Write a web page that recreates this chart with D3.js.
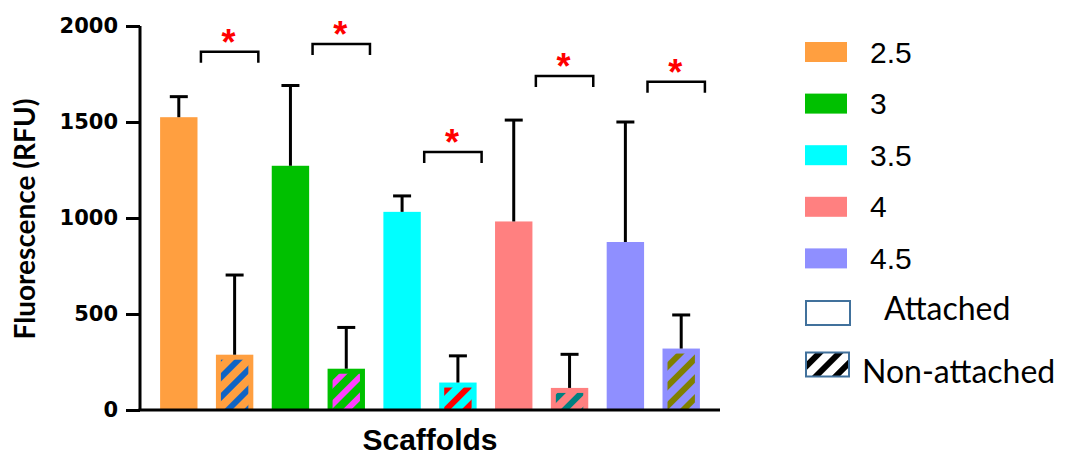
<!DOCTYPE html>
<html>
<head>
<meta charset="utf-8">
<script src="https://cdn.jsdelivr.net/npm/d3@7"></script>
<style>
  body { margin: 0; background: #fff; }
  svg { display: block; }
</style>
</head>
<body>
<div id="chart"></div>
<script>
// data
var scaffolds = ["2.5", "3", "3.5", "4", "4.5"];
var attached = [1525, 1272, 1032, 982, 875];
var attachedErr = [107, 418, 83, 528, 625];
var nonAttached = [288, 215, 143, 115, 320];
var nonAttachedErr = [415, 215, 139, 175, 175];
var sigBracket = [1866, 1906, 1344, 1740, 1710];
var yTicks = [0, 500, 1000, 1500, 2000];

var barColors = ["#FF9F40", "#00C000", "#00FFFF", "#FF8080", "#8F8FFF"];
var hatchColors = ["#1064C4", "#FF40FF", "#FF0000", "#008080", "#808000"];

var svgWidth = 1070;
var svgHeight = 456;

var svg = d3.select("#chart")
  .append("svg")
  .attr("width", svgWidth)
  .attr("height", svgHeight);

var defs = svg.append("defs");

// flatten into one row per bar
var bars = [];
scaffolds.forEach(function(s, i) {
  bars.push({ key: s + "-a", group: i, value: attached[i], err: attachedErr[i], hatch: false });
  bars.push({ key: s + "-n", group: i, value: nonAttached[i], err: nonAttachedErr[i], hatch: true });
});

var x = d3.scaleBand()
  .domain(bars.map(d => d.key))
  .range([140, 720])
  .paddingInner(0.33)
  .paddingOuter(0.36);

var y = d3.scaleLinear()
  .domain([0, 2000])
  .range([410, 26]);

// stripe patterns
function stripe(id, color, bg) {
  var p = defs.append("pattern")
    .attr("id", id)
    .attr("patternUnits", "userSpaceOnUse")
    .attr("width", 14)
    .attr("height", 14)
    .attr("patternTransform", "rotate(45)");
  if (bg) p.append("rect").attr("width", 14).attr("height", 14).attr("fill", bg);
  p.append("rect").attr("width", 6).attr("height", 14).attr("fill", color);
}
hatchColors.forEach(function(c, i) { stripe("hatch" + i, c, null); });
stripe("hatchLegend", "#000", "#fff");

var chart = svg.append("g");

// bars
chart.selectAll(".bar")
  .data(bars)
  .enter().append("rect")
  .attr("class", "bar")
  .attr("x", d => x(d.key))
  .attr("y", d => y(d.value))
  .attr("width", x.bandwidth())
  .attr("height", d => y(0) - y(d.value))
  .attr("fill", d => barColors[d.group]);

// hatch inset in the non-attached bars
chart.selectAll(".hatch")
  .data(bars.filter(d => d.hatch))
  .enter().append("rect")
  .attr("class", "hatch")
  .attr("x", d => x(d.key) + 5)
  .attr("y", d => y(d.value) + 5)
  .attr("width", x.bandwidth() - 10)
  .attr("height", d => Math.max(0, y(0) - y(d.value) - 5))
  .attr("fill", d => "url(#hatch" + d.group + ")");

// error bars (upper only)
var eb = chart.selectAll(".err")
  .data(bars)
  .enter().append("g")
  .attr("class", "err")
  .attr("stroke", "#000")
  .attr("stroke-width", 3);
eb.append("line")
  .attr("x1", d => x(d.key) + x.bandwidth() / 2)
  .attr("x2", d => x(d.key) + x.bandwidth() / 2)
  .attr("y1", d => y(d.value))
  .attr("y2", d => y(d.value + d.err));
eb.append("line")
  .attr("x1", d => x(d.key) + x.bandwidth() / 2 - 9)
  .attr("x2", d => x(d.key) + x.bandwidth() / 2 + 9)
  .attr("y1", d => y(d.value + d.err))
  .attr("y2", d => y(d.value + d.err));

// axes
var leftAxis = d3.axisLeft(y)
  .tickValues(yTicks)
  .tickFormat(d3.format("d"))
  .tickSize(14)
  .tickPadding(8);
var yAxisG = chart.append("g")
  .attr("transform", "translate(140,0)")
  .call(leftAxis);
yAxisG.select(".domain").attr("stroke-width", 3).attr("d", "M0," + y(2000) + "V" + y(0));
yAxisG.selectAll(".tick line").attr("stroke-width", 3);
yAxisG.selectAll(".tick text")
  .attr("font-family", "DejaVu Sans, sans-serif")
  .attr("font-weight", "bold")
  .attr("font-size", 21)
  .attr("fill", "#000");

chart.append("line")
  .attr("x1", 138.5).attr("x2", 720)
  .attr("y1", y(0)).attr("y2", y(0))
  .attr("stroke", "#000").attr("stroke-width", 3);

// significance brackets
var sig = chart.selectAll(".sig")
  .data(scaffolds.map((s, i) => ({ key: s + "-n", top: sigBracket[i] })))
  .enter().append("g")
  .attr("class", "sig");
sig.append("path")
  .attr("d", function(d) {
    var l = x(d.key) - 15, r = x(d.key) + x.bandwidth() + 5, t = y(d.top);
    return "M" + l + "," + (t + 11) + "V" + t + "H" + r + "V" + (t + 11);
  })
  .attr("fill", "none").attr("stroke", "#000").attr("stroke-width", 2.5);
sig.append("text")
  .attr("x", d => x(d.key) + x.bandwidth() / 2 - 6)
  .attr("y", d => y(d.top) + 3)
  .attr("text-anchor", "middle")
  .attr("font-family", "Liberation Sans, Arial, sans-serif")
  .attr("font-weight", "bold")
  .attr("font-size", 36)
  .attr("fill", "#FF0000")
  .text("*");

// axis titles
svg.append("text")
  .attr("transform", "translate(35,219) rotate(-90)")
  .attr("text-anchor", "middle")
  .attr("font-family", "Lato, sans-serif")
  .attr("font-weight", "bold")
  .attr("font-size", 28)
  .text("Fluorescence (RFU)");

svg.append("text")
  .attr("x", 430)
  .attr("y", 450)
  .attr("text-anchor", "middle")
  .attr("font-family", "Liberation Sans, Arial, sans-serif")
  .attr("font-weight", "bold")
  .attr("font-size", 30)
  .text("Scaffolds");

// legend
var legend = svg.append("g");
var lg = legend.selectAll(".lg")
  .data(scaffolds)
  .enter().append("g")
  .attr("transform", (d, i) => "translate(805," + (52 + i * 51.6) + ")");
lg.append("rect")
  .attr("y", -10).attr("width", 42).attr("height", 20)
  .attr("fill", (d, i) => barColors[i]);
lg.append("text")
  .attr("x", 65).attr("y", 10.5)
  .attr("font-family", "Liberation Sans, Arial, sans-serif")
  .attr("font-size", 30)
  .text(d => d);

legend.append("rect")
  .attr("x", 806).attr("y", 301).attr("width", 44).attr("height", 24)
  .attr("fill", "#fff").attr("stroke", "#41719C").attr("stroke-width", 2);
legend.append("text")
  .attr("x", 884).attr("y", 320)
  .attr("font-family", "Lato, sans-serif")
  .attr("font-size", 32)
  .text("Attached");

legend.append("rect")
  .attr("x", 806).attr("y", 352.5).attr("width", 43).attr("height", 24)
  .attr("fill", "url(#hatchLegend)").attr("stroke", "#41719C").attr("stroke-width", 2);
legend.append("text")
  .attr("x", 862).attr("y", 383)
  .attr("font-family", "Lato, sans-serif")
  .attr("font-size", 32)
  .text("Non-attached");
</script>
</body>
</html>
